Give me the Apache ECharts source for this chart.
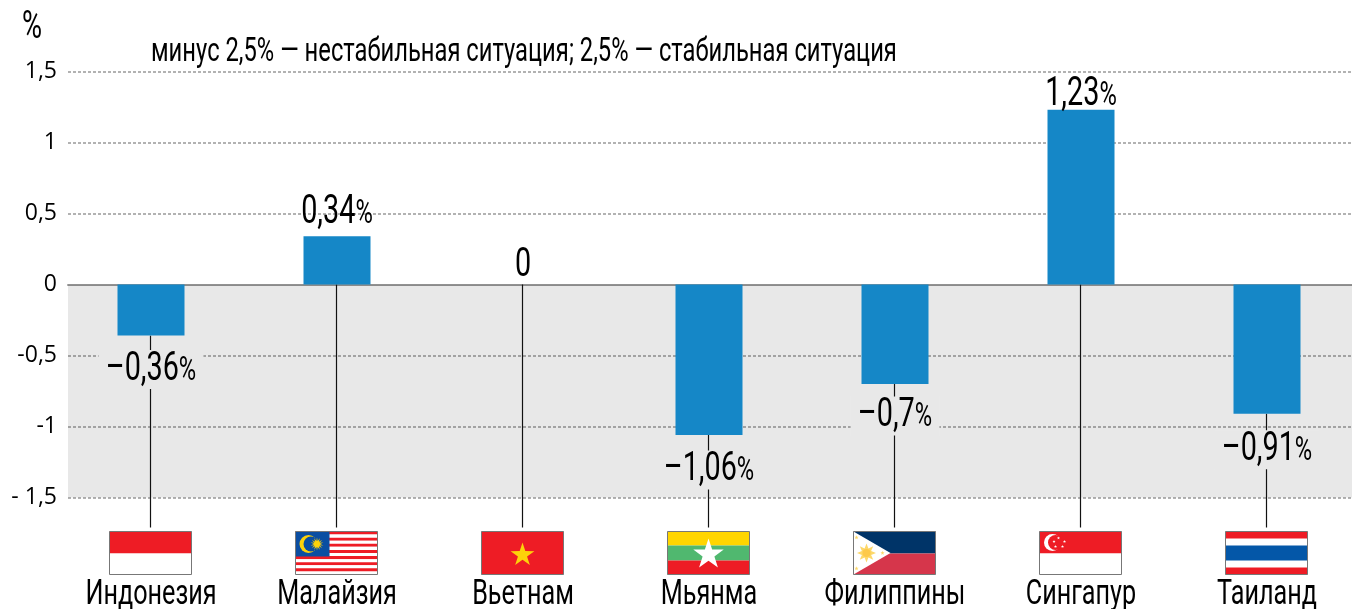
<!DOCTYPE html>
<html>

<head>
    <meta charset="utf-8">
    <title>Стабильность</title>
    <script src="https://cdn.jsdelivr.net/npm/echarts@6/dist/echarts.min.js"></script>
    <style>
        html, body { margin: 0; padding: 0; background: #fff; }
    </style>
</head>

<body>
    <div id="main" style="width: 1352px;height:609px;"></div>
    <script type="text/javascript">
        var countries = ['Индонезия', 'Малайзия', 'Вьетнам', 'Мьянма', 'Филиппины', 'Сингапур', 'Таиланд'];
        var flagKeys = ['id', 'my', 'vn', 'mm', 'ph', 'sg', 'th'];
        var values = [-0.36, 0.34, 0, -1.06, -0.7, 1.23, -0.91];
        var yTicks = [1.5, 1, 0.5, 0, -0.5, -1, -1.5];
        var yTickLabels = ['1,5', '1', '0,5', '0', '-0,5', '-1', '- 1,5'];
        var bandRange = [0, -1.5];
        var titleText = 'минус 2,5% — нестабильная ситуация; 2,5% — стабильная ситуация';

        // узкого шрифта нет, поэтому сжимаем Roboto по горизонтали
        var font = 'Roboto';
        var squeeze = 0.72;
        var flagW = 82, flagH = 43;
        // расстояние от конца столбика до центра подписи
        var labelGap = [34, 23, 19, 35, 32, 15, 36];

        function rect(x, y, w, h, fill) {
            return { type: 'rect', shape: { x: x, y: y, width: w, height: h }, style: { fill: fill } };
        }
        function circle(cx, cy, r, fill) {
            return { type: 'circle', shape: { cx: cx, cy: cy, r: r }, style: { fill: fill } };
        }
        // звезда: n лучей, внешний и внутренний радиус
        function star(cx, cy, r, r2, n, fill) {
            var pts = [];
            for (var i = 0; i < n * 2; i++) {
                var a = -Math.PI / 2 + i * Math.PI / n;
                var q = i % 2 ? r2 : r;
                pts.push([cx + q * Math.cos(a), cy + q * Math.sin(a)]);
            }
            return { type: 'polygon', shape: { points: pts }, style: { fill: fill } };
        }

        function flagParts(key) {
            var p = [], i;
            if (key === 'id') {
                p.push(rect(0, 0, flagW, 22, '#ee1c25'), rect(0, 22, flagW, 21, '#fff'));
            } else if (key === 'my') {
                for (i = 0; i < 14; i++) {
                    p.push(rect(0, i * flagH / 14, flagW, flagH / 14, i % 2 ? '#fff' : '#ee1c25'));
                }
                p.push(rect(0, 0, 34, 25, '#0a4ea2'));
                p.push(circle(13, 12.5, 9, '#fdd20a'), circle(15.5, 12.5, 7.5, '#0a4ea2'));
                p.push(star(21.5, 12.5, 6.5, 3, 14, '#fdd20a'));
            } else if (key === 'vn') {
                p.push(rect(0, 0, flagW, flagH, '#ee1c25'));
                p.push(star(41, 23.5, 12.5, 4.8, 5, '#fdd20a'));
            } else if (key === 'mm') {
                p.push(rect(0, 0, flagW, 14, '#ffd500'), rect(0, 14, flagW, 15, '#50b86f'), rect(0, 29, flagW, 14, '#ee1c25'));
                p.push(star(41, 23, 16, 6.2, 5, '#fff'));
            } else if (key === 'ph') {
                p.push(rect(0, 0, flagW, 22, '#003468'), rect(0, 22, flagW, 21, '#d6364b'));
                p.push({ type: 'polygon', shape: { points: [[0, 0], [37, 21.5], [0, 43]] }, style: { fill: '#fff' } });
                p.push(star(13, 21.5, 9.5, 5, 8, '#fdd86a'), circle(13, 21.5, 4, '#fdc94a'));
                p.push(star(3, 6, 2.2, 0.9, 5, '#fdd86a'), star(3, 37, 2.2, 0.9, 5, '#fdd86a'), star(29, 21.5, 2.2, 0.9, 5, '#fdd86a'));
            } else if (key === 'sg') {
                p.push(rect(0, 0, flagW, 22, '#ee1c25'), rect(0, 22, flagW, 21, '#fff'));
                p.push(circle(13, 11, 8.5, '#fff'), circle(16, 11, 7.5, '#ee1c25'));
                var sx = [19, 25, 23, 16, 14.5], sy = [6.5, 10, 15, 15, 10];
                for (i = 0; i < 5; i++) {
                    p.push(star(sx[i], sy[i], 1.6, 0.7, 5, '#fff'));
                }
            } else if (key === 'th') {
                p.push(rect(0, 0, flagW, flagH, '#ee1c25'), rect(0, 7, flagW, 29, '#fff'), rect(0, 14, flagW, 15, '#0457a8'));
            }
            // серая рамка
            p.push({ type: 'rect', shape: { x: 0, y: 0, width: flagW, height: flagH }, style: { fill: 'none', stroke: '#777', lineWidth: 1 } });
            return p;
        }

        function valueLabel(v) {
            var txt = String(Math.abs(v)).replace('.', ',');
            if (v === 0) return '{v|0}';
            return '{v|' + (v < 0 ? '–' : '') + txt + '}{p|%}';
        }

        var dom = document.getElementById("main");
        var myChart = echarts.init(dom);

        var option = {
            animation: false,
            graphic: [
                {
                    type: 'text', left: 22, top: 9, scaleX: squeeze,
                    style: { text: '%', font: '38px ' + font, fill: '#000' }
                },
                {
                    type: 'text', x: 151, y: 53, scaleX: squeeze,
                    style: { text: titleText, font: '33px ' + font, fill: '#000', verticalAlign: 'middle' }
                }
            ],
            grid: [
                { left: 68, right: 0, top: 71.5, height: 426, outerBoundsMode: 'none' },
                { left: 58, width: 1302, top: 71.5, height: 426, outerBoundsMode: 'none' }
            ],
            xAxis: [
                {
                    gridIndex: 0, type: 'category', data: countries,
                    axisLine: { show: true, lineStyle: { color: '#999', width: 2 } },
                    axisTick: { show: false }, axisLabel: { show: false }
                },
                {
                    gridIndex: 1, type: 'category', data: countries,
                    axisLine: { show: false, onZero: false }, axisTick: { show: false },
                    axisLabel: { show: false }
                }
            ],
            yAxis: [
                {
                    gridIndex: 0, type: 'value', min: -1.5, max: 1.5, interval: 0.5,
                    axisLine: { show: false }, axisTick: { show: false },
                    axisLabel: {
                        margin: 11, color: '#000', fontFamily: '"Open Sans"', fontSize: 23,
                        formatter: function (v) {
                            return yTickLabels[yTicks.indexOf(v)];
                        }
                    },
                    splitLine: { show: true, lineStyle: { color: '#999', width: 1.5, type: [3, 2] } }
                },
                {
                    gridIndex: 1, type: 'value', min: -1.5, max: 1.5, interval: 0.5,
                    axisLine: { show: false }, axisTick: { show: false }, axisLabel: { show: false }, splitLine: { show: false }
                }
            ],
            series: [
                {
                    // серая полоса ниже нуля
                    type: 'line', xAxisIndex: 0, yAxisIndex: 0, data: [], z: 1, silent: true,
                    markArea: {
                        silent: true,
                        itemStyle: { color: 'rgba(0,0,0,0.09)' },
                        data: [[{ yAxis: bandRange[0] }, { yAxis: bandRange[1] }]]
                    }
                },
                {
                    // ножки, флаги и названия стран
                    type: 'custom', xAxisIndex: 1, yAxisIndex: 1, z: 2, silent: true,
                    data: values.map(function (v, i) { return [i, Math.min(v, 0)]; }),
                    renderItem: function (params, api) {
                        var top = api.coord([api.value(0), api.value(1)]);
                        var base = api.coord([api.value(0), -1.5]);
                        var stemX = Math.floor(top[0]) - 0.5;
                        return {
                            type: 'group',
                            children: [
                                {
                                    type: 'line',
                                    shape: { x1: stemX, y1: top[1], x2: stemX, y2: base[1] + 30 },
                                    style: { stroke: '#111', lineWidth: 1.2 }
                                },
                                {
                                    type: 'group',
                                    x: Math.floor(top[0] - flagW / 2) - 0.5,
                                    y: Math.round(base[1] + 33) + 0.5,
                                    children: flagParts(flagKeys[params.dataIndex])
                                },
                                {
                                    type: 'text',
                                    x: top[0],
                                    y: base[1] + 97.5,
                                    scaleX: squeeze,
                                    style: {
                                        text: countries[params.dataIndex],
                                        font: '35px ' + font, fill: '#000',
                                        align: 'center', verticalAlign: 'middle'
                                    }
                                }
                            ]
                        };
                    }
                },
                {
                    type: 'bar', xAxisIndex: 1, yAxisIndex: 1, z: 3, barWidth: 67,
                    itemStyle: { color: '#1587c7' },
                    data: values
                },
                {
                    // подписи значений поверх ножек
                    type: 'custom', xAxisIndex: 1, yAxisIndex: 1, z: 4, silent: true,
                    data: values.map(function (v, i) { return [i, v]; }),
                    renderItem: function (params, api) {
                        var v = api.value(1);
                        var end = api.coord([api.value(0), v]);
                        var gap = labelGap[params.dataIndex];
                        return {
                            type: 'text',
                            x: end[0],
                            y: v < 0 ? end[1] + gap : end[1] - gap,
                            scaleX: squeeze,
                            style: {
                                text: valueLabel(v),
                                align: 'center', verticalAlign: 'middle',
                                backgroundColor: v < 0 ? '#e8e8e8' : 'transparent',
                                padding: v < 0 ? [1, 10, 1, 10] : 0,
                                rich: {
                                    v: { font: '40px ' + font, fill: '#000', lineHeight: 37 },
                                    p: { font: '33px ' + font, fill: '#000', lineHeight: 37, verticalAlign: 'bottom' }
                                }
                            }
                        };
                    }
                }
            ]
        };

        myChart.setOption(option);
    </script>
</body>

</html>
